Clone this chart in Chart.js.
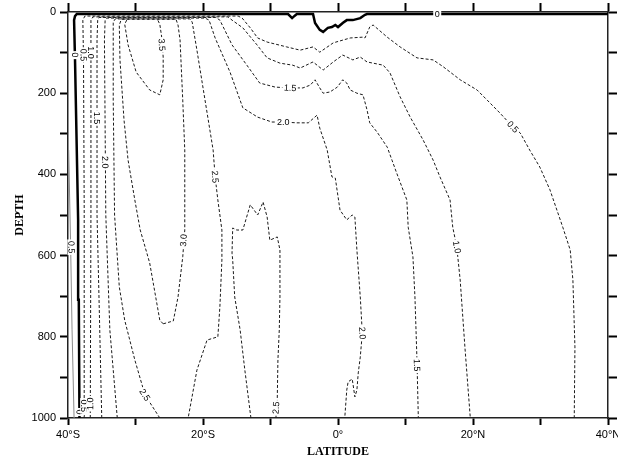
<!DOCTYPE html>
<html>
<head>
<meta charset="utf-8">
<script src="https://cdn.jsdelivr.net/npm/chart.js@4.4.1/dist/chart.umd.min.js"></script>
<style>
  body { margin: 0; background: #fff; }
  #wrap { width: 618px; height: 461px; }
</style>
</head>
<body>
<div id="wrap"><canvas id="chart" width="618" height="461"></canvas></div>
<script>
// contour lines, [latitude, depth] pairs
const contour0 = [[-38.3,1000],[-38.4,709],[-38.5,512],[-38.7,340],[-38.96,118],[-39.1,20],[-38.96,10],[-38.7,5],
  [-7.4,5],[-6.8,15],[-6.4,9],[-6.1,5],[-3.7,5],[-3.4,27],[-2.7,44],[-2.2,49],[-1.5,39],[-0.9,37],[-0.4,32],
  [0,37],[0.7,27],[1.3,20],[2.2,20],[3.3,15],[4.0,7],[4.3,5],[40,5]];
const contourNeg = [[-39.9,340],[-39.6,586],[-39.4,783],[-39.1,1000]];
const contour05 = [[-37.6,1000],[-37.6,483],[-37.7,118],[-37.8,20],[-37.5,10],[-14.8,10],[-14.2,15],[-13.0,39],
  [-11.9,64],[-10.5,74],[-7.6,86],[-5.6,94],[-3.7,86],[-2.7,99],[-0.7,76],[1.8,64],[3.6,62],[4.0,64],[4.7,37],
  [5.2,32],[7.3,62],[9.2,86],[11.7,113],[14.1,118],[15.6,135],[18.1,167],[20.6,192],[22.1,217],[24.0,249],
  [25.9,283],[27.0,298],[28.4,340],[29.9,382],[31.4,438],[33.3,530],[34.4,586],[34.8,660],[35.1,825],[35.0,1000]];
const contour10 = [[-36.7,1000],[-36.6,483],[-36.6,69],[-36.6,20],[-36.3,12],[-16.3,12],[-15.7,20],[-14.1,39],
  [-12.0,81],[-10.5,113],[-8.6,126],[-6.7,131],[-5.6,138],[-3.7,123],[-2.2,143],[-0.7,123],[0.7,106],[2.2,118],
  [3.3,111],[4.3,123],[6.7,131],[7.7,150],[9.2,209],[10.7,259],[12.6,315],[14.1,365],[15.1,406],[16.6,463],
  [17.0,530],[17.6,579],[18.1,660],[18.8,825],[19.6,1000]];
const contour15 = [[-35.0,1000],[-35.4,709],[-35.7,500],[-35.7,69],[-35.6,20],[-35.4,13.5],[-18.1,13.5],[-17.5,20],
  [-15.7,81],[-13.5,131],[-11.6,175],[-9.3,185],[-7.1,187],[-5.2,187],[-4.1,180],[-3.4,167],[-2.7,187],[-2.2,200],
  [-1.2,197],[-0.1,185],[0.7,167],[1.3,175],[1.8,192],[2.8,200],[3.7,204],[4.3,241],[4.7,273],[5.8,296],[7.3,333],
  [8.0,365],[8.7,397],[10.2,463],[10.4,530],[11.1,603],[11.4,702],[11.7,857],[11.9,1000]];
const contour20 = [[-32.7,1000],[-33.8,783],[-34.4,500],[-34.6,69],[-34.5,20],[-34.2,15],[-19.7,15],[-19.1,20],
  [-18.2,64],[-16.0,148],[-14.1,236],[-11.9,259],[-9.8,271],[-8.1,271],[-6.1,273],[-4.4,273],[-3.1,254],[-2.7,286],
  [-1.6,340],[-0.9,406],[-0.4,409],[0.3,488],[1.3,512],[2.1,500],[2.5,505],[2.8,586],[3.3,702],[3.6,791],[3.3,850],
  [3.0,889],[2.8,931],[2.5,948],[2.2,914],[2.1,904],[1.5,911],[1.3,931],[1.0,1000]];
const contour25 = [[-26.4,1000],[-28.6,943],[-30.1,857],[-31.6,759],[-32.4,677],[-33.1,500],[-33.3,217],[-33.3,25],
  [-33.0,17],[-21.9,17],[-21.6,25],[-20.9,94],[-19.7,217],[-18.5,340],[-18.2,406],[-17.8,463],[-17.2,537],
  [-17.2,611],[-17.5,727],[-17.8,800],[-19.4,808],[-20.9,882],[-22.2,1000]];
const contour25b = [[-12.9,1000],[-13.8,882],[-14.5,783],[-15.3,702],[-15.6,611],[-15.7,594],[-15.6,532],[-15.0,537],
  [-14.1,537],[-13.0,475],[-11.9,500],[-11.1,468],[-10.5,505],[-10.1,562],[-9.0,554],[-8.6,586],[-8.6,702],
  [-8.7,783],[-8.9,857],[-9.0,956],[-9.2,1000]];
const contour30 = [[-25.9,768],[-26.4,759],[-27.9,618],[-29.3,537],[-30.1,463],[-31.1,365],[-31.7,266],[-32.3,118],
  [-32.4,32],[-32.1,18],[-24.0,18],[-23.7,32],[-23.4,69],[-23.0,217],[-22.7,340],[-22.7,537],[-23.0,603],
  [-23.7,702],[-24.4,761],[-25.9,768]];
const contour35 = [[-31.3,20],[-31.6,30],[-31.1,81],[-29.9,148],[-27.9,192],[-26.4,204],[-25.9,167],[-25.9,111],
  [-26.1,64],[-26.4,30],[-26.7,20]];

// contour labels
const labelLat = [-38.96, -37.7, -36.6, -35.7, -34.5, -26.1, -18.2, -22.9, -28.6, -9.2, -8.1, -7.1, 3.6, 11.7, 17.6, 25.9, -39.5, -38.3, -37.6, -36.7, 14.7];
const labelDepth = [106, 106, 100, 261, 370, 81, 406, 562, 943, 975, 271, 187, 791, 870, 579, 283, 579, 985, 970, 965, 5];
const labelText = ['0', '0.5', '1.0', '1.5', '2.0', '3.5', '2.5', '3.0', '2.5', '2.5', '2.0', '1.5', '2.0', '1.5', '1.0', '0.5', '0.5', '0', '0.5', '1.0', '0'];

const latTicks = { '-40': '40°S', '-20': '20°S', '0': '0°', '20': '20°N', '40': '40°N' };

const toPts = (arr) => arr.map(([x, y]) => ({ x, y }));
const dashed = (arr) => ({ data: toPts(arr), borderColor: '#1a1a1a', borderWidth: 1, borderDash: [3, 2], pointRadius: 0, fill: false, tension: 0 });

const datasets = [
  dashed(contour05), dashed(contour10), dashed(contour15), dashed(contour20),
  dashed(contour25), dashed(contour25b), dashed(contour30), dashed(contour35),
  { data: toPts(contourNeg), borderColor: '#8a8a8a', borderWidth: 1, pointRadius: 0, fill: false, tension: 0 },
  { data: toPts(contour0), borderColor: '#000', borderWidth: 2.5, pointRadius: 0, fill: false, tension: 0 },
];

const contourLabels = {
  id: 'contourLabels',
  afterDatasetsDraw(chart) {
    const { ctx } = chart;
    const xs = chart.scales.x, ys = chart.scales.y;
    const segs = [];
    chart.data.datasets.forEach((ds, i) => {
      const pts = chart.getDatasetMeta(i).data;
      for (let j = 1; j < pts.length; j++) segs.push([pts[j - 1], pts[j]]);
    });
    ctx.save();
    ctx.font = '9px "Liberation Sans", Arial, sans-serif';
    ctx.textAlign = 'center';
    ctx.textBaseline = 'middle';
    labelText.forEach((t, k) => {
      const px = xs.getPixelForValue(labelLat[k]);
      const py = ys.getPixelForValue(labelDepth[k]);
      let best = null, bestD = Infinity;
      segs.forEach(([a, b]) => {
        const dx = b.x - a.x, dy = b.y - a.y;
        const len2 = dx * dx + dy * dy || 1;
        let u = ((px - a.x) * dx + (py - a.y) * dy) / len2;
        u = Math.max(0, Math.min(1, u));
        const qx = a.x + u * dx - px, qy = a.y + u * dy - py;
        const d = qx * qx + qy * qy;
        if (d < bestD) { bestD = d; best = [a, b]; }
      });
      let ang = best ? Math.atan2(best[1].y - best[0].y, best[1].x - best[0].x) : 0;
      if (ang > Math.PI / 2) ang -= Math.PI;
      if (ang <= -Math.PI / 2) ang += Math.PI;
      ctx.save();
      ctx.translate(px, py);
      ctx.rotate(ang);
      const w = ctx.measureText(t).width;
      ctx.fillStyle = '#fff';
      ctx.fillRect(-w / 2 - 1.5, -4, w + 3, 8);
      ctx.fillStyle = '#000';
      ctx.fillText(t, 0, 0.5);
      ctx.restore();
    });
    ctx.restore();
  },
};

const axisFont = { family: '"Liberation Sans", Arial, sans-serif', size: 11 };
const titleFont = { family: '"Liberation Serif", "Times New Roman", serif', size: 12, weight: 'bold' };
const frame = { display: true, color: '#222', width: 1.5 };
// pin the plot frame to fixed pixel margins
const fixBox = (w, h) => (s) => {
  if (w !== null) s.width = w;
  if (h !== null) s.height = h;
  s.paddingLeft = 0; s.paddingRight = 0; s.paddingTop = 0; s.paddingBottom = 0;
};

new Chart(document.getElementById('chart'), {
  type: 'line',
  data: { datasets },
  plugins: [contourLabels],
  options: {
    responsive: false,
    animation: false,
    layout: { padding: 0 },
    plugins: { legend: { display: false }, tooltip: { enabled: false } },
    scales: {
      x: {
        type: 'linear', position: 'bottom', min: -40, max: 40,
        ticks: { stepSize: 10, autoSkip: false, maxRotation: 0, color: '#000', font: axisFont, padding: 3,
          callback: (v) => latTicks[String(v)] || '' },
        grid: { drawOnChartArea: false, drawTicks: true, tickLength: 7, tickWidth: 2, tickColor: '#000' },
        border: frame,
        title: { display: true, text: 'LATITUDE', color: '#000', font: titleFont, padding: { top: 0, bottom: 2 } },
        afterFit: fixBox(null, 43),
      },
      xTop: {
        type: 'linear', position: 'top', min: -40, max: 40,
        ticks: { stepSize: 10, autoSkip: false, callback: () => '' },
        grid: { drawOnChartArea: false, drawTicks: true, tickLength: 9, tickWidth: 2, tickColor: '#000' },
        border: frame,
        afterFit: fixBox(null, 12),
      },
      y: {
        type: 'linear', position: 'left', reverse: true, min: 0, max: 1000,
        ticks: { stepSize: 100, autoSkip: false, color: '#000', font: axisFont, padding: 4,
          callback: (v) => (v % 200 === 0 ? String(v) : '') },
        grid: { drawOnChartArea: false, drawTicks: true, tickLength: 8, tickWidth: 2, tickColor: '#000' },
        border: frame,
        title: { display: true, text: 'DEPTH', color: '#000', font: titleFont, padding: { top: 13, bottom: 0 } },
        afterFit: fixBox(68, null),
      },
      yRight: {
        type: 'linear', position: 'right', reverse: true, min: 0, max: 1000,
        ticks: { stepSize: 100, autoSkip: false, callback: () => '' },
        grid: { drawOnChartArea: false, drawTicks: true, tickLength: 9, tickWidth: 2, tickColor: '#000' },
        border: frame,
        afterFit: fixBox(10, null),
      },
    },
  },
});
</script>
</body>
</html>
